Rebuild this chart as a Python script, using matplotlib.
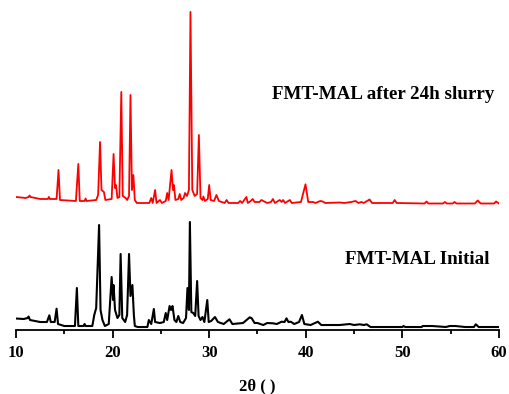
import matplotlib
matplotlib.use("Agg")
import matplotlib.pyplot as plt
from matplotlib.ticker import MultipleLocator

plt.rcParams['font.family'] = ['Liberation Serif', 'DejaVu Serif']

# red trace: FMT-MAL after 24h slurry (intensity as plotted, a.u.)
slurry_2theta = [10.0, 11.0, 11.3, 11.4, 11.5, 12.5, 13.3, 13.4, 13.5, 14.2, 14.4, 14.55,
                 16.2, 16.45, 16.6, 17.1, 17.2, 17.3, 18.3, 18.5, 18.7, 18.85, 19.1, 19.25,
                 19.9, 20.1, 20.25, 20.35, 20.5, 20.7, 20.9, 21.05, 21.35, 21.5, 21.7, 21.85,
                 22.0, 22.15, 22.3, 22.5, 23.8, 24.0, 24.15, 24.4, 24.55, 24.9, 25.1, 25.5,
                 25.65, 25.8, 26.1, 26.25, 26.35, 26.5, 26.8, 26.95, 27.1, 27.35, 27.5, 27.7,
                 27.9, 28.06, 28.25, 28.5, 28.75, 28.93, 29.1, 29.3, 29.4, 29.55, 29.85, 30.0,
                 30.15, 30.5, 30.75, 31.0, 31.6, 31.8, 32.0, 33.0, 33.2, 33.4, 33.85, 34.0,
                 34.3, 34.5, 34.7, 35.2, 35.4, 35.75, 36.0, 36.4, 36.6, 36.8, 37.3, 37.5,
                 37.65, 37.85, 38.35, 38.55, 39.5, 39.97, 40.25, 40.75, 41.0, 41.5, 41.75, 42.0,
                 43.5, 44.0, 44.7, 45.15, 45.45, 45.75, 46.0, 46.6, 46.85, 49.0, 49.2, 49.4,
                 52.3, 52.5, 52.7, 54.2, 54.4, 54.6, 55.2, 55.4, 55.6, 57.5, 57.8, 58.1,
                 59.5, 59.7, 60.0]
slurry_int = [133, 132, 133, 134.5, 133, 131, 131, 133, 131, 131, 160, 130,
              129, 166, 129, 129, 131.5, 129, 130, 135, 188, 140, 138, 130,
              131, 176, 142, 145, 132, 133, 238, 134, 132, 130, 134, 235,
              140, 155, 130, 127, 127, 132, 127, 140, 127, 130, 127, 129,
              137, 130, 160, 140, 145, 130, 131, 136, 130, 132, 137, 134,
              140, 318, 140, 134, 136, 195, 132, 130, 133.5, 129, 131, 145,
              130, 129, 135, 129, 127, 130, 127, 127, 129, 127, 133, 127,
              129, 131, 128, 128, 130, 128.3, 127, 128, 131, 127, 130, 128,
              130, 127, 130, 127, 128, 145.7, 128, 128, 127, 129, 128.5, 127,
              127.5, 127, 128, 129, 127, 128, 127, 130.5, 127, 127, 130, 127,
              126.5, 128.5, 126.5, 126.5, 128, 126.5, 126.5, 128, 126.5, 126.5, 129.5, 126.5,
              126.5, 128.5, 126.5]

# black trace: FMT-MAL initial
initial_2theta = [10.0, 10.8, 11.2, 11.3, 11.45, 12.5, 13.2, 13.45, 13.6, 14.0, 14.2, 14.35,
                  15.0, 16.1, 16.3, 16.45, 17.0, 17.1, 17.2, 17.9, 18.1, 18.3, 18.6, 18.75,
                  18.95, 19.2, 19.6, 19.9, 20.05, 20.1, 20.25, 20.5, 20.7, 20.83, 21.0, 21.3,
                  21.5, 21.7, 21.85, 22.05, 22.2, 22.3, 22.6, 23.6, 23.75, 24.0, 24.27, 24.4,
                  24.9, 25.3, 25.5, 25.65, 25.9, 26.05, 26.2, 26.4, 26.6, 26.8, 27.0, 27.3,
                  27.6, 27.75, 27.9, 28.0, 28.15, 28.35, 28.55, 28.75, 28.9, 29.1, 29.3, 29.5,
                  29.8, 29.95, 30.2, 30.6, 30.9, 31.5, 32.1, 32.4, 33.5, 34.2, 34.4, 34.7,
                  35.0, 35.6, 36.0, 36.6, 37.0, 37.5, 37.8, 38.0, 38.2, 38.45, 38.8, 39.3,
                  39.6, 39.85, 40.5, 41.25, 41.6, 42.5, 43.5, 44.55, 45.0, 45.6, 46.0, 46.3,
                  46.7, 50.0, 50.1, 50.3, 52.0, 52.1, 53.1, 54.5, 54.9, 55.5, 56.5, 57.4,
                  57.6, 57.9, 60.0]
initial_int = [11.5, 11, 12, 13.5, 10, 8, 8, 14.7, 8, 8, 21.3, 6,
               4, 4, 42, 4, 4, 6, 4, 4, 15, 22, 105, 20,
               10, 4, 6, 53, 30, 45, 20, 12, 15, 76, 12, 8,
               15, 76, 34, 45, 15, 4, 3, 3, 10, 6, 21, 8,
               7, 8, 17, 10, 24, 20, 24, 10, 8, 14, 8, 7,
               12, 42, 20, 108, 18, 17, 14, 49, 14, 10, 13, 8,
               30, 8, 9, 13, 8, 6, 10.7, 6, 7, 12.7, 11.7, 7,
               7, 5, 7, 6.7, 6, 8.3, 8, 11.7, 8, 8.3, 6, 8,
               15, 6, 5, 8.3, 5, 5, 5, 6, 5, 5.7, 5, 5.7,
               3, 3, 4, 3, 3, 4, 4, 3, 4, 4, 3, 3,
               5.7, 3, 3]

fig = plt.figure(figsize=(5.10, 3.94), dpi=100)
ax = fig.add_axes([0.0314, 0.1624, 0.947, 0.825])

ax.plot(slurry_2theta, slurry_int, color='#ff0000', lw=1.3)
ax.plot(initial_2theta, initial_int, color='black', lw=1.5)

ax.text(36.5, 235, "FMT-MAL after 24h slurry", fontsize=13.7, fontweight='bold',
        va='center', ha='left')
ax.text(44.1, 71, "FMT-MAL Initial", fontsize=13.7, fontweight='bold',
        va='center', ha='left')

ax.set_xlim(10, 60)
ax.set_ylim(0, 325)
for s in ['left', 'top', 'right']:
    ax.spines[s].set_visible(False)
ax.spines['bottom'].set_linewidth(1.3)
ax.set_yticks([])
ax.xaxis.set_major_locator(MultipleLocator(10))
ax.xaxis.set_minor_locator(MultipleLocator(5))
ax.tick_params(axis='x', which='major', direction='out', length=6, width=1.3,
               labelsize=12, pad=5)
ax.tick_params(axis='x', which='minor', direction='out', length=3, width=1.3)
for lab in ax.get_xticklabels():
    lab.set_fontweight('bold')

ax.set_xlabel("2θ ( )", fontsize=12, fontweight='bold', labelpad=12)

fig.savefig("out.png", dpi=100)
